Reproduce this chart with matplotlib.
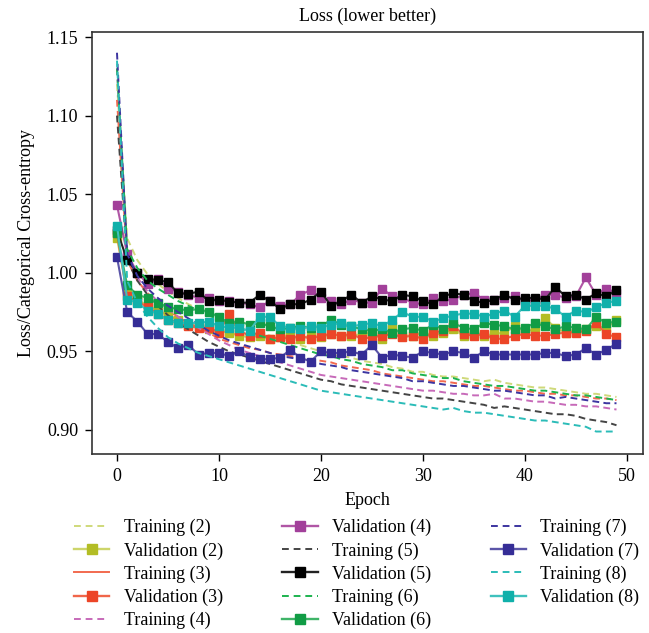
import numpy as np
import matplotlib
matplotlib.use("Agg")
import matplotlib.pyplot as plt
from matplotlib.lines import Line2D

plt.rcParams['font.family'] = ['Liberation Serif', 'DejaVu Serif']

epochs = np.arange(50)

# training losses (dashed)
train2 = [1.120, 1.022, 1.008, 0.999, 0.993, 0.988, 0.984, 0.980, 0.977, 0.974,
          0.971, 0.969, 0.966, 0.964, 0.962, 0.960, 0.958, 0.956, 0.954, 0.952,
          0.950, 0.948, 0.947, 0.946, 0.944, 0.943, 0.942, 0.940, 0.939, 0.937,
          0.937, 0.935, 0.934, 0.934, 0.933, 0.932, 0.931, 0.932, 0.930, 0.929,
          0.928, 0.927, 0.927, 0.926, 0.925, 0.924, 0.923, 0.923, 0.922, 0.921]
train3 = [1.110, 1.008, 0.995, 0.987, 0.981, 0.976, 0.972, 0.968, 0.965, 0.962,
          0.958, 0.956, 0.954, 0.952, 0.951, 0.949, 0.948, 0.947, 0.946, 0.945,
          0.944, 0.943, 0.941, 0.940, 0.939, 0.938, 0.936, 0.935, 0.934, 0.933,
          0.932, 0.931, 0.931, 0.930, 0.929, 0.928, 0.928, 0.927, 0.926, 0.925,
          0.925, 0.924, 0.923, 0.923, 0.922, 0.922, 0.921, 0.920, 0.920, 0.919]
train4 = [1.130, 1.012, 0.997, 0.988, 0.982, 0.977, 0.972, 0.968, 0.965, 0.961,
          0.957, 0.954, 0.951, 0.949, 0.947, 0.945, 0.943, 0.941, 0.939, 0.937,
          0.935, 0.934, 0.933, 0.932, 0.931, 0.930, 0.929, 0.928, 0.927, 0.926,
          0.925, 0.925, 0.924, 0.923, 0.923, 0.922, 0.922, 0.923, 0.920, 0.920,
          0.919, 0.918, 0.918, 0.917, 0.916, 0.916, 0.915, 0.915, 0.914, 0.913]
train5 = [1.100, 1.008, 0.995, 0.986, 0.979, 0.973, 0.968, 0.964, 0.960, 0.956,
          0.953, 0.950, 0.948, 0.946, 0.944, 0.942, 0.940, 0.938, 0.936, 0.934,
          0.932, 0.931, 0.929, 0.928, 0.927, 0.926, 0.925, 0.924, 0.923, 0.922,
          0.921, 0.920, 0.920, 0.919, 0.918, 0.917, 0.916, 0.914, 0.915, 0.914,
          0.913, 0.912, 0.911, 0.910, 0.910, 0.909, 0.907, 0.906, 0.905, 0.903]
train6 = [1.130, 1.015, 1.003, 0.995, 0.990, 0.986, 0.982, 0.979, 0.976, 0.973,
          0.970, 0.967, 0.965, 0.962, 0.960, 0.958, 0.956, 0.954, 0.952, 0.950,
          0.948, 0.947, 0.945, 0.944, 0.942, 0.941, 0.940, 0.938, 0.938, 0.936,
          0.935, 0.934, 0.933, 0.933, 0.931, 0.930, 0.929, 0.928, 0.928, 0.927,
          0.926, 0.925, 0.925, 0.924, 0.923, 0.922, 0.922, 0.921, 0.920, 0.919]
train7 = [1.140, 1.012, 0.998, 0.990, 0.984, 0.979, 0.975, 0.971, 0.967, 0.963,
          0.960, 0.957, 0.955, 0.953, 0.951, 0.949, 0.947, 0.946, 0.945, 0.944,
          0.942, 0.941, 0.940, 0.938, 0.937, 0.936, 0.935, 0.934, 0.933, 0.931,
          0.931, 0.930, 0.929, 0.928, 0.928, 0.927, 0.926, 0.925, 0.925, 0.924,
          0.923, 0.922, 0.922, 0.920, 0.921, 0.920, 0.919, 0.918, 0.917, 0.917]
train8 = [1.135, 0.995, 0.981, 0.972, 0.965, 0.959, 0.955, 0.952, 0.949, 0.947,
          0.945, 0.943, 0.941, 0.939, 0.937, 0.935, 0.933, 0.931, 0.929, 0.927,
          0.925, 0.924, 0.923, 0.922, 0.921, 0.920, 0.919, 0.918, 0.917, 0.916,
          0.915, 0.914, 0.913, 0.914, 0.912, 0.911, 0.911, 0.910, 0.909, 0.908,
          0.907, 0.906, 0.906, 0.905, 0.904, 0.903, 0.902, 0.899, 0.899, 0.899]

# validation losses (square markers)
val2 = [1.022, 0.988, 0.983, 0.979, 0.976, 0.973, 0.970, 0.967, 0.966, 0.964,
        0.963, 0.962, 0.960, 0.959, 0.960, 0.958, 0.959, 0.960, 0.958, 0.960,
        0.959, 0.961, 0.960, 0.960, 0.961, 0.962, 0.958, 0.966, 0.960, 0.960,
        0.962, 0.960, 0.962, 0.964, 0.960, 0.962, 0.960, 0.961, 0.962, 0.966,
        0.963, 0.964, 0.971, 0.965, 0.962, 0.963, 0.964, 0.966, 0.965, 0.970]
val3 = [1.025, 0.985, 0.982, 0.978, 0.974, 0.970, 0.968, 0.966, 0.965, 0.965,
        0.962, 0.974, 0.963, 0.960, 0.962, 0.958, 0.959, 0.958, 0.960, 0.958,
        0.960, 0.961, 0.960, 0.961, 0.958, 0.959, 0.960, 0.961, 0.959, 0.960,
        0.958, 0.962, 0.963, 0.966, 0.961, 0.960, 0.961, 0.958, 0.958, 0.960,
        0.961, 0.960, 0.960, 0.961, 0.962, 0.962, 0.963, 0.968, 0.961, 0.959]
val4 = [1.043, 1.012, 1.000, 0.993, 0.996, 0.990, 0.988, 0.986, 0.984, 0.984,
        0.982, 0.982, 0.981, 0.980, 0.978, 0.982, 0.979, 0.980, 0.986, 0.989,
        0.984, 0.982, 0.980, 0.983, 0.981, 0.981, 0.990, 0.985, 0.984, 0.981,
        0.980, 0.984, 0.982, 0.983, 0.986, 0.987, 0.983, 0.983, 0.984, 0.985,
        0.982, 0.983, 0.986, 0.986, 0.984, 0.985, 0.997, 0.986, 0.990, 0.987]
val5 = [1.027, 1.008, 1.000, 0.996, 0.9955, 0.994, 0.987, 0.9866, 0.988, 0.982,
        0.983, 0.9817, 0.981, 0.981, 0.986, 0.982, 0.977, 0.980, 0.980, 0.983,
        0.988, 0.979, 0.982, 0.986, 0.981, 0.985, 0.983, 0.982, 0.986, 0.985,
        0.982, 0.980, 0.985, 0.987, 0.986, 0.982, 0.981, 0.983, 0.986, 0.983,
        0.984, 0.984, 0.983, 0.991, 0.985, 0.986, 0.983, 0.987, 0.985, 0.989]
val6 = [1.025, 0.992, 0.986, 0.984, 0.981, 0.978, 0.977, 0.976, 0.977, 0.975,
        0.972, 0.968, 0.969, 0.967, 0.968, 0.966, 0.964, 0.965, 0.966, 0.965,
        0.966, 0.970, 0.967, 0.966, 0.964, 0.963, 0.964, 0.962, 0.964, 0.965,
        0.963, 0.967, 0.964, 0.968, 0.965, 0.964, 0.968, 0.967, 0.966, 0.964,
        0.965, 0.968, 0.966, 0.964, 0.966, 0.965, 0.964, 0.972, 0.968, 0.969]
val7 = [1.010, 0.975, 0.969, 0.961, 0.961, 0.956, 0.952, 0.954, 0.948, 0.949,
        0.949, 0.947, 0.950, 0.9465, 0.945, 0.945, 0.946, 0.951, 0.946, 0.9435,
        0.950, 0.949, 0.949, 0.950, 0.948, 0.954, 0.946, 0.948, 0.947, 0.946,
        0.950, 0.949, 0.948, 0.950, 0.949, 0.946, 0.950, 0.948, 0.948, 0.948,
        0.948, 0.948, 0.949, 0.949, 0.947, 0.948, 0.952, 0.948, 0.951, 0.955]
val8 = [1.030, 0.983, 0.981, 0.976, 0.974, 0.970, 0.968, 0.968, 0.968, 0.969,
        0.966, 0.965, 0.965, 0.963, 0.972, 0.972, 0.966, 0.965, 0.964, 0.966,
        0.965, 0.967, 0.968, 0.966, 0.967, 0.968, 0.966, 0.970, 0.975, 0.972,
        0.972, 0.969, 0.971, 0.973, 0.974, 0.974, 0.972, 0.974, 0.976, 0.972,
        0.979, 0.979, 0.979, 0.977, 0.972, 0.976, 0.975, 0.978, 0.981, 0.982]

# (label, data, line colour, marker colour, dashed?)
series = [
    ("Training (2)", train2, "#cfd97a", None, True),
    ("Validation (2)", val2, "#cdd56a", "#b3bd25", False),
    ("Training (3)", train3, "#f26a4f", None, True),
    ("Validation (3)", val3, "#f0664a", "#ec4527", False),
    ("Training (4)", train4, "#c76ab9", None, True),
    ("Validation (4)", val4, "#b056a5", "#a2409a", False),
    ("Training (5)", train5, "#444444", None, True),
    ("Validation (5)", val5, "#222222", "#000000", False),
    ("Training (6)", train6, "#1db34f", None, True),
    ("Validation (6)", val6, "#3fb468", "#119c45", False),
    ("Training (7)", train7, "#3c35a0", None, True),
    ("Validation (7)", val7, "#5b55a8", "#352d96", False),
    ("Training (8)", train8, "#2bbcb8", None, True),
    ("Validation (8)", val8, "#3fc1bd", "#10b0aa", False),
]

fig = plt.figure(figsize=(6.49, 6.33), dpi=100)
ax = fig.add_axes([92/649, 1-454/633, (643-92)/649, (454-32)/633])

handles = []
for label, y, col, mcol, dashed in series:
    if dashed:
        ax.plot(epochs, y, color=col, lw=1.4, ls=(0, (3.5, 2.2)))
        ls_leg = "-" if label == "Training (3)" else (0, (3.5, 2.5))
        handles.append(Line2D([], [], color=col, lw=1.4, ls=ls_leg, label=label))
    else:
        ax.plot(epochs, y, color=col, lw=1.5, marker="s", ms=5.8,
                mfc=mcol, mec=mcol)
        handles.append(Line2D([], [], color=col, lw=1.7, marker="s", ms=7.5,
                              mfc=mcol, mec=mcol, label=label))

ax.set_xlim(-2.45, 51.6)
ax.set_ylim(0.8847, 1.1532)
ax.set_xticks([0, 10, 20, 30, 40, 50])
ax.set_yticks([0.90, 0.95, 1.00, 1.05, 1.10, 1.15])
ax.set_yticklabels(["0.90", "0.95", "1.00", "1.05", "1.10", "1.15"])
ax.tick_params(labelsize=13, length=5, width=1, pad=5)
for s in ax.spines.values():
    s.set_linewidth(1.2)
    s.set_color("#333333")

ax.set_title("Loss (lower better)", fontsize=13, pad=8)
ax.set_xlabel("Epoch", fontsize=13, labelpad=5)
ax.set_ylabel("Loss/Categorical Cross-entropy", fontsize=13, labelpad=8)

fig.legend(handles=handles, ncol=3, loc="upper left",
           bbox_to_anchor=(74/649, 1-519/633), frameon=False, fontsize=13,
           handlelength=1.95, handletextpad=0.8, columnspacing=3.3,
           labelspacing=0.33, borderpad=0, borderaxespad=0)

fig.savefig("out.png", dpi=100)
